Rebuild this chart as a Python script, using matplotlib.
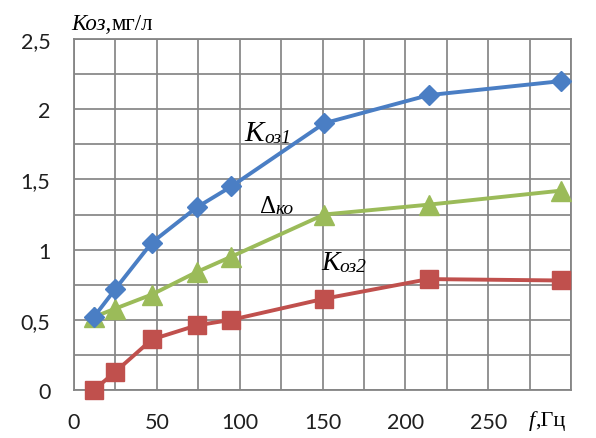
import matplotlib
matplotlib.use("Agg")
import matplotlib.pyplot as plt
from matplotlib.ticker import MultipleLocator, FixedLocator

# ---- data ----
freq = [12, 25, 47, 74, 95, 151, 214, 294]
koz1 = [0.52, 0.72, 1.05, 1.30, 1.45, 1.90, 2.10, 2.20]
dko = [0.52, 0.58, 0.68, 0.84, 0.95, 1.25, 1.32, 1.42]
koz2 = [0.00, 0.13, 0.36, 0.46, 0.50, 0.65, 0.79, 0.78]
xticks = [0, 50, 100, 150, 200, 250]
xtick_labels = ["0", "50", "100", "150", "200", "250"]
yticks = [0, 0.5, 1.0, 1.5, 2.0, 2.5]
ytick_labels = ["0", "0,5", "1", "1,5", "2", "2,5"]

BLUE = "#4A7EC4"
GREEN = "#9BBB59"
RED = "#C0504D"
GRID = "#858585"
TXT = "#1f1f1f"
SERIF = "Liberation Serif"

fig = plt.figure(figsize=(5.96, 4.39), dpi=100)
ax = fig.add_axes([74/596, 48/439, 497/596, 351/439])

ax.set_xlim(0, 300)
ax.set_ylim(0, 2.5)
ax.xaxis.set_major_locator(FixedLocator(xticks))
ax.xaxis.set_minor_locator(MultipleLocator(25))
ax.yaxis.set_major_locator(FixedLocator(yticks))
ax.yaxis.set_minor_locator(MultipleLocator(0.25))
ax.set_xticklabels(xtick_labels)
ax.set_yticklabels(ytick_labels)
ax.tick_params(which="both", length=0)
ax.tick_params(axis="x", pad=16, labelsize=15.5, labelcolor=TXT)
ax.tick_params(axis="y", pad=17, labelsize=15.5, labelcolor=TXT)
for lab in ax.get_xticklabels() + ax.get_yticklabels():
    lab.set_family("Lato")
ax.grid(True, which="both", color=GRID, linewidth=1.25)
ax.set_axisbelow(True)
for sp in ax.spines.values():
    sp.set_color(GRID)
    sp.set_linewidth(1.3)

ax.plot(freq, koz2, color=RED, lw=2.8, marker="s", ms=13.5, mec=RED, mfc=RED, clip_on=False, zorder=3)
ax.plot(freq, dko, color=GREEN, lw=2.8, marker="^", ms=14, mec=GREEN, mfc=GREEN, clip_on=False, zorder=4)
ax.plot(freq, koz1, color=BLUE, lw=2.8, marker="D", ms=10, mec=BLUE, mfc=BLUE, clip_on=False, zorder=5)


def rich(x, y, parts, transform):
    prev = None
    for s, kw in parts:
        if prev is None:
            prev = ax.text(x, y, s, transform=transform, ha="left", va="bottom",
                           color="black", **kw)
        else:
            prev = ax.annotate(s, xy=(1, 0), xycoords=prev, ha="left", va="bottom",
                               color="black", annotation_clip=False, **kw)


rich(103, 1.74, [("К", dict(family=SERIF, style="italic", size=21)),
                 ("оз1", dict(family=SERIF, style="italic", size=14))], ax.transData)
rich(112, 1.23, [("\u0394", dict(family=[SERIF, "DejaVu Serif"], size=18)),
                 ("ко", dict(family=SERIF, style="italic", size=14))], ax.transData)
rich(149, 0.82, [("К", dict(family=SERIF, style="italic", size=20)),
                 ("оз2", dict(family=SERIF, style="italic", size=14))], ax.transData)

# axis titles
rich(-0.005, 1.015, [("Коз,", dict(family=SERIF, style="italic", size=16.5)),
                     ("мг/л", dict(family=SERIF, size=16.5))], ax.transAxes)
rich(0.915, -0.115, [("f", dict(family=SERIF, style="italic", size=16)),
                     (",Гц", dict(family=SERIF, size=16))], ax.transAxes)

fig.savefig("out.png", dpi=100)
